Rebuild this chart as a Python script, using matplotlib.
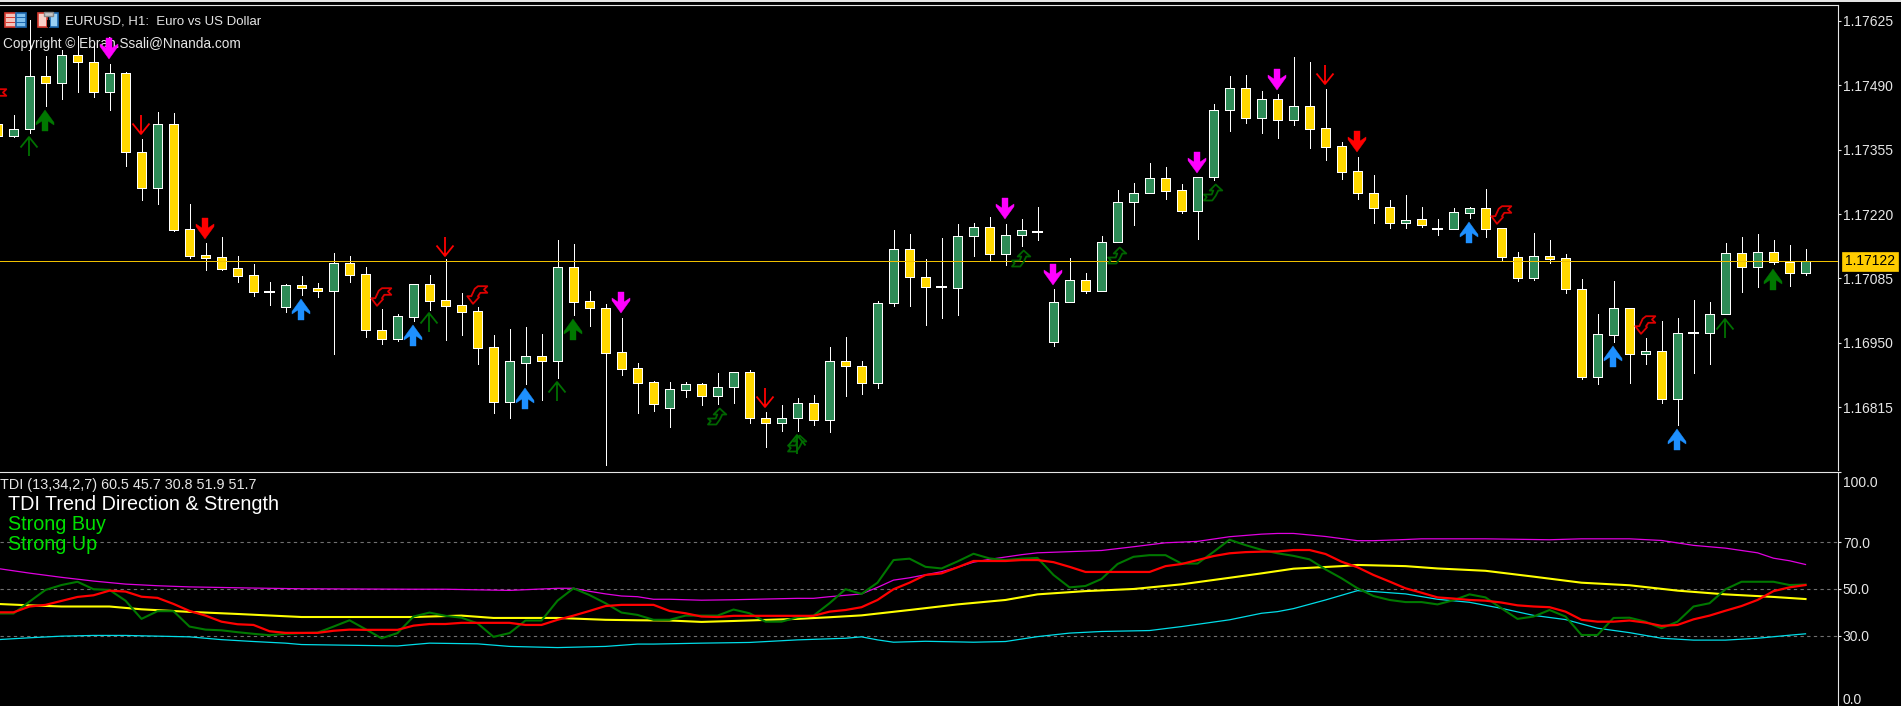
import matplotlib
matplotlib.use("Agg")
import matplotlib.pyplot as plt
from matplotlib.path import Path
from matplotlib.patches import Rectangle
from matplotlib.transforms import IdentityTransform, ScaledTranslation

plt.rcParams['font.family'] = ['Liberation Sans', 'DejaVu Sans']

# ---------- price data (bar index -1 is cut off by the left edge) ----------
bar_index = list(range(-1, 113))
bar_open = [1.17409,1.17384,1.17398,1.17509,1.17494,1.17553,1.17538,1.17476,1.17515,1.17349,1.17275,1.17408,1.17188,1.17134,1.17129,1.17107,1.17092,1.17057,1.17026,1.17071,1.17066,1.17059,1.17117,1.17094,1.16978,1.16959,1.17005,1.17073,1.17039,1.17029,1.17016,1.16941,1.16827,1.16908,1.16922,1.16912,1.17110,1.17037,1.17024,1.16930,1.16897,1.16867,1.16814,1.16852,1.16863,1.16839,1.16857,1.16888,1.16793,1.16783,1.16793,1.16823,1.16789,1.16911,1.16902,1.16866,1.17033,1.17146,1.17089,1.17068,1.17066,1.17175,1.17192,1.17137,1.17177,1.17182,1.16952,1.17036,1.17081,1.17059,1.17161,1.17245,1.17265,1.17295,1.17270,1.17227,1.17297,1.17439,1.17484,1.17422,1.17460,1.17416,1.17446,1.17400,1.17362,1.17310,1.17265,1.17234,1.17202,1.17209,1.17189,1.17189,1.17223,1.17232,1.17190,1.17131,1.17086,1.17133,1.17127,1.17063,1.16879,1.16967,1.17024,1.16927,1.16934,1.16833,1.16971,1.16971,1.17010,1.17138,1.17108,1.17140,1.17120,1.17097]
bar_high = [1.17417,1.17428,1.17627,1.17551,1.17564,1.17592,1.17578,1.17534,1.17518,1.17377,1.17434,1.17432,1.17241,1.17159,1.17171,1.17132,1.17115,1.17077,1.17073,1.17090,1.17075,1.17138,1.17132,1.17109,1.17021,1.17010,1.17073,1.17092,1.17125,1.17054,1.17025,1.16966,1.16979,1.16983,1.16968,1.17165,1.17157,1.17059,1.17031,1.17002,1.16907,1.16870,1.16867,1.16867,1.16865,1.16886,1.16888,1.16894,1.16805,1.16820,1.16834,1.16841,1.16941,1.16962,1.16912,1.17038,1.17187,1.17178,1.17126,1.17170,1.17199,1.17201,1.17214,1.17199,1.17210,1.17234,1.17062,1.17127,1.17096,1.17174,1.17270,1.17284,1.17327,1.17319,1.17282,1.17297,1.17450,1.17509,1.17511,1.17477,1.17472,1.17549,1.17539,1.17482,1.17370,1.17339,1.17301,1.17249,1.17259,1.17234,1.17209,1.17232,1.17234,1.17272,1.17190,1.17140,1.17180,1.17166,1.17136,1.17083,1.17010,1.17079,1.17024,1.16960,1.16996,1.17002,1.17039,1.17036,1.17159,1.17172,1.17178,1.17166,1.17155,1.17147]
bar_low = [1.17381,1.17382,1.17390,1.17446,1.17460,1.17476,1.17465,1.17439,1.17321,1.17250,1.17240,1.17185,1.17128,1.17103,1.17103,1.17078,1.17049,1.17030,1.17015,1.17050,1.17047,1.16927,1.17078,1.16963,1.16948,1.16954,1.16996,1.17019,1.16956,1.16967,1.16906,1.16804,1.16793,1.16864,1.16830,1.16877,1.17008,1.16985,1.16695,1.16883,1.16804,1.16808,1.16774,1.16837,1.16820,1.16822,1.16824,1.16783,1.16732,1.16766,1.16766,1.16778,1.16764,1.16839,1.16843,1.16856,1.17028,1.17028,1.16988,1.17003,1.17009,1.17133,1.17124,1.17113,1.17154,1.17166,1.16944,1.17036,1.17055,1.17059,1.17161,1.17197,1.17265,1.17252,1.17223,1.17168,1.17291,1.17395,1.17411,1.17390,1.17379,1.17407,1.17359,1.17334,1.17294,1.17252,1.17202,1.17191,1.17191,1.17193,1.17177,1.17189,1.17211,1.17172,1.17124,1.17080,1.17082,1.17118,1.17055,1.16875,1.16864,1.16952,1.16866,1.16906,1.16824,1.16778,1.16887,1.16906,1.17010,1.17057,1.17068,1.17115,1.17070,1.17093]
bar_close = [1.17383,1.17398,1.17509,1.17494,1.17553,1.17538,1.17476,1.17515,1.17349,1.17275,1.17408,1.17186,1.17133,1.17128,1.17105,1.17091,1.17057,1.17057,1.17071,1.17066,1.17059,1.17117,1.17093,1.16978,1.16959,1.17006,1.17073,1.17038,1.17028,1.17015,1.16940,1.16827,1.16911,1.16922,1.16912,1.17110,1.17036,1.17024,1.16929,1.16896,1.16866,1.16822,1.16853,1.16863,1.16839,1.16857,1.16888,1.16793,1.16783,1.16793,1.16823,1.16789,1.16911,1.16902,1.16866,1.17033,1.17146,1.17089,1.17068,1.17068,1.17175,1.17192,1.17137,1.17177,1.17186,1.17182,1.17035,1.17081,1.17059,1.17161,1.17245,1.17265,1.17295,1.17269,1.17227,1.17297,1.17439,1.17484,1.17422,1.17460,1.17416,1.17446,1.17399,1.17361,1.17309,1.17265,1.17233,1.17202,1.17207,1.17198,1.17189,1.17224,1.17232,1.17189,1.17131,1.17086,1.17133,1.17126,1.17063,1.16879,1.16968,1.17024,1.16927,1.16934,1.16833,1.16970,1.16971,1.17010,1.17138,1.17108,1.17140,1.17120,1.17097,1.17122]
last_price = 1.17122
price_ticks = [1.17625, 1.17490, 1.17355, 1.17220, 1.17085, 1.16950, 1.16815]

# ---------- signal arrows on the price panel (bar index, price) ----------
thin_up_i = [1, 26, 34, 49, 107]
thin_up_p = [1.17362, 1.16993, 1.16849, 1.16738, 1.16982]
thin_down_i = [8, 27, 47, 82]
thin_down_p = [1.17409, 1.17153, 1.16836, 1.17513]
thick_green_i = [2, 35, 110]
thick_green_p = [1.17417, 1.16980, 1.17084]
thick_blue_i = [18, 25, 32, 91, 100, 104]
thick_blue_p = [1.17021, 1.16966, 1.16834, 1.17182, 1.16922, 1.16748]
thick_magenta_i = [6, 38, 62, 65, 74, 79]
thick_magenta_p = [1.17568, 1.17036, 1.17232, 1.17094, 1.17329, 1.17503]
thick_red_i = [12, 84]
thick_red_p = [1.17191, 1.17373]
hook_red_i = [-1, 23, 29, 93, 102]
hook_red_p = [1.17465, 1.17049, 1.17053, 1.17220, 1.16989]
hook_green_i = [44, 49, 63, 69, 75]
hook_green_p = [1.16797, 1.16741, 1.17128, 1.17134, 1.17267]

# ---------- TDI panel ----------
tdi_ticks = [100.0, 70.0, 50.0, 30.0, 0.0]
tdi_levels = [70.0, 50.0, 30.0]

rsi_green = [39.5,39.5,44.6,49.6,51.7,53.1,49.9,49.6,45.0,37.2,40.5,40.5,33.9,32.6,32.3,31.5,30.8,30.2,30.8,31.1,31.3,33.9,36.6,32.8,28.9,31.1,38.2,39.9,38.5,37.7,35.3,29.5,31.1,36.5,36.5,45.0,50.3,47.4,43.9,39.9,38.9,
             36.8,36.8,38.6,38.6,38.6,41.2,39.6,36.0,36.0,37.9,38.6,43.9,49.9,47.9,52.7,62.4,63.0,59.5,58.8,61.8,65.1,63.1,62.4,63.0,63.3,56.0,50.7,51.3,54.3,60.7,63.8,64.5,64.5,60.9,60.9,65.9,71.1,68.8,66.8,
             65.3,64.2,62.7,58.4,54.6,50.3,47.0,45.3,44.4,44.4,43.4,45.2,47.7,46.4,41.7,37.2,38.2,41.0,38.2,30.3,30.3,37.6,37.7,36.0,33.2,36.0,42.5,43.9,49.9,53.1,53.1,53.1,51.7,51.9]
signal_red = [40.0,40.0,42.5,43.2,44.9,46.6,47.3,49.3,48.9,46.7,46.2,43.6,40.6,38.6,36.0,34.9,34.6,31.9,31.2,31.2,31.2,32.1,32.6,32.5,32.5,32.5,34.3,35.0,35.0,35.5,35.5,35.5,35.5,34.6,34.6,36.8,38.6,40.6,42.7,43.2,43.2,
              43.2,40.6,39.6,38.2,38.0,38.5,38.5,38.5,38.5,38.5,38.5,40.3,41.0,42.2,45.3,49.9,52.7,56.0,56.7,59.3,62.0,62.0,62.0,62.4,62.4,61.5,59.5,57.3,57.3,57.3,57.3,57.3,59.8,60.7,62.4,64.1,65.3,65.8,66.0,
              66.1,66.7,66.7,65.0,61.7,59.3,56.0,53.2,50.3,48.4,46.4,45.9,45.3,45.0,44.2,43.0,42.5,42.2,40.3,36.8,36.0,36.0,36.5,35.6,34.2,34.6,37.0,38.6,40.7,42.7,45.3,49.1,50.7,51.7]

band_up_i = [-1,1,3,5,7,9,11,15,18,25,27,31,34,35,36,37,38,39,40,41,43,45,49,50,51,53,54,55,56,58,59,60,61,63,64,66,68,70,72,74,76,78,79,80,82,84,85,87,88,92,96,98,101,103,105,107,109,110,111,112]
band_up_v = [58.8,56.8,55.0,53.4,52.1,51.4,50.9,50.4,50.1,49.9,49.9,49.4,50.3,50.3,49.0,47.9,47.0,46.7,45.6,45.6,45.2,45.4,46.0,46.0,46.7,47.9,50.7,53.8,54.8,57.4,59.3,61.5,62.7,64.7,65.5,66.0,66.5,68.1,69.8,70.4,72.4,73.5,73.8,73.8,72.5,70.7,70.7,71.2,71.5,71.5,71.1,71.5,71.5,70.8,68.7,67.5,65.5,63.2,62.1,60.5]

band_dn_i = [-1,1,3,5,7,11,13,15,17,18,21,24,26,29,31,34,37,39,40,43,46,49,52,53,54,55,57,60,62,64,66,68,71,73,76,78,79,80,82,84,85,87,89,91,93,95,97,99,101,103,105,107,109,111,112]
band_dn_v = [28.3,29.1,29.8,30.1,30.1,29.5,28.3,27.5,26.8,26.2,25.9,25.6,26.8,26.5,25.4,24.9,25.4,26.4,26.4,26.8,27.1,28.2,28.9,29.5,28.2,27.2,27.6,27.2,27.5,29.6,31.1,31.8,32.2,33.9,36.8,39.6,40.3,41.6,45.3,49.3,48.9,47.9,45.6,44.3,41.7,38.7,36.9,33.2,31.3,28.9,28.1,28.1,28.9,30.2,30.8]

band_mid_i = [-1,1,3,6,8,11,14,18,21,25,28,30,34,37,39,41,43,45,49,51,53,56,59,62,64,67,70,73,76,78,80,83,84,87,89,92,95,98,101,104,107,110,112]
band_mid_v = [43.6,43.0,42.5,42.5,41.3,40.2,39.3,38.0,38.0,38.0,38.6,37.6,37.6,36.8,36.6,36.5,35.9,36.3,37.2,37.9,38.7,41.0,43.4,45.3,47.7,49.1,50.0,52.0,54.8,56.7,58.7,59.8,60.3,59.8,58.8,57.8,55.3,52.7,51.6,49.3,47.7,46.6,45.7]

# ---------- text ----------
title_text = "EURUSD, H1:  Euro vs US Dollar"
copyright_text = "Copyright \u00a9 Ebrah.Ssali@Nnanda.com"
tdi_label = "TDI (13,34,2,7) 60.5 45.7 30.8 51.9 51.7"
dash_lines = [("TDI Trend Direction & Strength", "white"), ("Strong Buy", "#00E000"), ("Strong Up", "#00E000")]

# ---------- colours ----------
UP_COL = "#2E8B57"
DOWN_COL = "#FFD700"
PRICE_LINE = "#F0C000"
AX_COL = "#E6E6E6"

W, H = 1901, 706
fig = plt.figure(figsize=(W / 100, H / 100), dpi=100, facecolor="black")


def axes_px(x0, y0, x1, y1):
    return fig.add_axes([x0 / W, 1 - y1 / H, (x1 - x0) / W, (y1 - y0) / H], facecolor="black")


ax = axes_px(0, 5, 1838, 470.3)
ax2 = axes_px(0, 472.3, 1838, 705.7)

xlim = (-0.84375, 114.03)
for a in (ax, ax2):
    a.set_xlim(*xlim)
    a.set_xticks([])
    a.yaxis.tick_right()
    a.tick_params(axis="y", colors=AX_COL, length=2.5, width=0.8, pad=1, labelsize=10)
    for side in ("left", "bottom"):
        a.spines[side].set_visible(False)
    for side in ("top", "right"):
        a.spines[side].set_color(AX_COL)
        a.spines[side].set_linewidth(0.8)
ax.set_ylim(1.16683, 1.17658)
ax2.set_ylim(0, 100)

# candles
for i, o, h, l, c in zip(bar_index, bar_open, bar_high, bar_low, bar_close):
    ax.vlines(i, l, h, color="white", lw=0.65, zorder=2, antialiased=False)
    if abs(o - c) < 1e-7:
        ax.hlines(o, i - 0.33, i + 0.33, color="white", lw=1.4, zorder=3, antialiased=False)
    else:
        ax.bar(i, abs(c - o), bottom=min(o, c), width=0.62,
               facecolor=UP_COL if c > o else DOWN_COL,
               edgecolor="white", linewidth=0.7, zorder=3, antialiased=False)

ax.axhline(last_price, color=PRICE_LINE, lw=0.7, zorder=4, antialiased=False)

# arrow shapes, in pixels around the marker centre (their art sits slightly left of the bar)
SHIFT = -1.5


def sh(verts):
    return [(x + SHIFT, y) for x, y in verts]


THICK_UP = sh([(0, 10.5), (9, -2), (9, -4.5), (3, -0.5), (3, -10.5), (-3, -10.5), (-3, -0.5), (-9, -4.5), (-9, -2), (0, 10.5)])
THICK_DOWN = [(x, -y) for x, y in THICK_UP]
HOOK_RED = sh([(-4, -9.3), (-9.7, -1.7), (-5.7, -1.7), (-2.3, 5.7), (1, 8.3), (10.3, 8.3), (7, 5), (10.3, 1.7), (3.3, 1.7), (1, -1.7), (2, -2.7), (-4, -9.3)])
HOOK_GREEN = sh([(2.7, 8), (9.3, 2), (5.3, 2), (2.7, -3.3), (-0.7, -8), (-9, -8), (-6.3, -4.7), (-9, -2), (-1.3, -2), (0.3, 2), (-3.3, 2), (2.7, 8)])


def scaled(verts):
    return max(max(abs(x), abs(y)) for x, y in verts) * 2 * 0.72


def thin_path(sign):
    v = sh([(0, 9.5 * sign), (0, -9.5 * sign), (-8.5, -1.0 * sign), (0, 9.5 * sign), (8.5, -1.0 * sign)])
    codes = [Path.MOVETO, Path.LINETO, Path.MOVETO, Path.LINETO, Path.LINETO]
    return Path(v, codes), scaled(v)


def filled(a, xs, ys, verts, colour):
    a.plot(xs, ys, ls="none", marker=Path(verts, closed=True), ms=scaled(verts),
           mfc=colour, mec=colour, mew=0.3, zorder=6, clip_on=True)


def hollow(a, xs, ys, verts, colour):
    a.plot(xs, ys, ls="none", marker=Path(verts, closed=True), ms=scaled(verts),
           mfc="none", mec=colour, mew=1.3, zorder=6)


filled(ax, thick_green_i, thick_green_p, THICK_UP, "#007800")
filled(ax, thick_blue_i, thick_blue_p, THICK_UP, "#1E90FF")
filled(ax, thick_magenta_i, thick_magenta_p, THICK_DOWN, "#FF00FF")
filled(ax, thick_red_i, thick_red_p, THICK_DOWN, "#FF0000")
hollow(ax, hook_red_i, hook_red_p, HOOK_RED, "#DD0000")
hollow(ax, hook_green_i, hook_green_p, HOOK_GREEN, "#006400")
p_up, ms_up = thin_path(1)
p_dn, ms_dn = thin_path(-1)
ax.plot(thin_up_i, thin_up_p, ls="none", marker=p_up, ms=ms_up, mfc="none", mec="#007000", mew=1.3, zorder=6)
ax.plot(thin_down_i, thin_down_p, ls="none", marker=p_dn, ms=ms_dn, mfc="none", mec="#FF0000", mew=1.3, zorder=6)

# price axis
ax.set_yticks(price_ticks)
ax.set_yticklabels([f"{p:.5f}" for p in price_ticks])

# current price tag
ax.annotate(f"{last_price:.5f}", xy=(1, last_price), xycoords=("axes fraction", "data"),
            xytext=(32, -0.5), textcoords="offset pixels", ha="center", va="center",
            fontsize=10, color="black", zorder=10, annotation_clip=False,
            bbox=dict(boxstyle="square,pad=0.18", fc="#FFCC00", ec="#FFCC00", lw=0.5))

ax.text(3 / 1838, 1 - (44 - 5) / 465.3, copyright_text, transform=ax.transAxes, color=AX_COL,
        fontsize=9.85, ha="left", va="center", zorder=1)
ax.text(65 / 1838, 1 - (21 - 5) / 465.3, title_text, transform=ax.transAxes, color=AX_COL,
        fontsize=9.5, ha="left", va="center", zorder=7)

# TDI panel
for lev in tdi_levels:
    ax2.axhline(lev, color="#707070", lw=0.8, ls=(0, (3, 3)), zorder=1)
ax2.plot(band_up_i, band_up_v, color="#E000E0", lw=0.9, zorder=3, solid_joinstyle="miter")
ax2.plot(band_dn_i, band_dn_v, color="#00DDE8", lw=0.9, zorder=3)
ax2.plot(band_mid_i, band_mid_v, color="#FFFF00", lw=1.5, zorder=4)
ax2.plot(bar_index, rsi_green, color="#007800", lw=1.5, zorder=5)
ax2.plot(bar_index, signal_red, color="#FF0000", lw=1.6, zorder=6)

ax2.set_yticks(tdi_ticks)
labels = ax2.set_yticklabels([f"{t:.1f}" for t in tdi_ticks])
labels[0].set_transform(labels[0].get_transform() + ScaledTranslation(0, -9 / 100, fig.dpi_scale_trans))
labels[-1].set_transform(labels[-1].get_transform() + ScaledTranslation(0, 7 / 100, fig.dpi_scale_trans))

ax2.text(0, 1 - (485 - 472.3) / 233.4, tdi_label, transform=ax2.transAxes, color=AX_COL,
         fontsize=10.4, ha="left", va="center", zorder=7)
for (txt, col), ypx in zip(dash_lines, (505, 525, 545)):
    ax2.text(8 / 1838, 1 - (ypx - 472.3) / 233.4, txt, transform=ax2.transAxes, color=col,
             fontsize=14.2, ha="left", va="center", zorder=7)


# window chrome and toolbar icons (pixel coordinates)
def px_rect(x0, y0, x1, y1, fc, ec="none", lw=0.0, z=20):
    fig.add_artist(Rectangle((x0, H - y1), x1 - x0, y1 - y0, transform=IdentityTransform(),
                             facecolor=fc, edgecolor=ec, linewidth=lw, zorder=z))


px_rect(0, 0, W, 1.8, "#E4E4E4")
# icon 1
px_rect(5, 12.5, 15.5, 26.5, "#F4C4BC", "#D83A30", 1.2)
px_rect(15.5, 12.5, 26, 26.5, "#7FC0EE", "#1C68B0", 1.2)
for yy in (16.8, 21.5):
    px_rect(6, yy, 15, yy + 1.2, "#D83A30")
    px_rect(16, yy, 25.5, yy + 1.2, "#1C68B0")
# icon 2
px_rect(37.5, 12.5, 46.5, 26.5, "#F8D0C8", "#D83A30", 1.2)
px_rect(49.5, 12.5, 58, 26.5, "#9AD0F4", "#1C68B0", 1.2)
px_rect(44, 11.5, 53, 16, "#C8C8C8", "#888888", 1.0)
px_rect(46.5, 20, 49.5, 27, "black")

fig.savefig("out.png", dpi=100, facecolor="black")
